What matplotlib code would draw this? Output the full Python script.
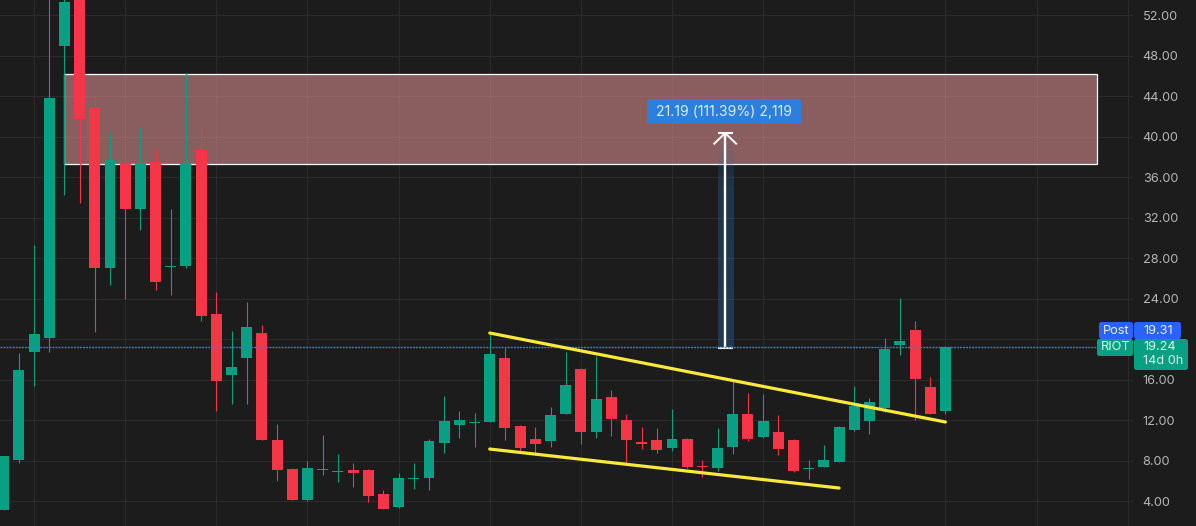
import matplotlib.pyplot as plt
import numpy as np
from matplotlib.patches import FancyBboxPatch, Rectangle
from matplotlib.transforms import Affine2D

plt.rcParams["font.family"] = ["Inter", "DejaVu Sans"]

opens = [3.16, 8.10, 18.76, 20.15, 48.99, 62.0, 42.96, 27.06, 37.43, 32.89, 37.53, 27.16, 27.26, 38.71, 22.52, 16.49,
         18.17, 20.64, 10.07, 7.21, 4.15, 7.11, 6.91, 7.11, 7.11, 4.74, 3.46, 6.22, 6.32, 9.77, 11.55, 11.75,
         11.85, 18.17, 11.45, 10.17, 9.97, 12.64, 17.09, 10.86, 14.32, 12.05, 9.87, 10.07, 9.28, 10.17, 7.51, 7.31,
         9.38, 12.64, 10.37, 10.86, 10.07, 7.21, 7.41, 7.90, 11.06, 11.95, 13.23, 19.45, 20.94, 15.31, 12.94]
highs = [8.49, 18.67, 29.33, 60.0, 56.0, 65.0, 44.05, 40.39, 37.60, 40.89, 38.71, 32.89, 46.32, 40.89, 24.69, 20.84,
         23.70, 21.43, 11.65, 7.31, 7.99, 10.57, 8.69, 7.80, 7.21, 5.13, 6.81, 7.80, 10.17, 14.42, 12.94, 12.74,
         20.64, 19.16, 11.55, 11.36, 13.33, 18.76, 17.19, 18.37, 15.01, 12.64, 11.36, 11.26, 13.13, 10.27, 8.10, 11.26,
         15.90, 14.71, 14.61, 12.54, 10.17, 8.10, 9.58, 11.45, 15.40, 14.22, 20.15, 24.10, 21.83, 16.30, 19.36]
lows = [3.16, 7.80, 15.40, 18.76, 34.27, 33.48, 20.74, 25.38, 24.00, 30.81, 24.89, 24.39, 27.06, 21.83, 12.94, 13.63,
        13.63, 10.07, 6.02, 4.15, 4.05, 6.62, 5.92, 5.43, 3.95, 3.26, 3.36, 5.23, 5.13, 8.79, 10.27, 9.38,
        11.85, 10.07, 8.98, 8.59, 9.38, 12.64, 9.68, 10.27, 10.47, 7.80, 9.18, 8.79, 8.98, 7.31, 6.42, 7.01,
        8.69, 9.97, 10.27, 8.59, 6.91, 6.22, 7.41, 7.90, 10.96, 10.67, 12.84, 18.47, 12.05, 12.64, 12.64]
closes = [8.49, 16.99, 20.54, 43.85, 53.33, 41.78, 27.06, 37.73, 32.89, 37.43, 25.68, 27.26, 37.43, 22.32, 15.90, 17.28,
          21.23, 10.07, 7.11, 4.15, 7.31, 7.21, 7.01, 6.81, 4.54, 3.26, 6.32, 6.32, 9.97, 11.95, 12.05, 11.85,
          18.57, 11.26, 9.28, 9.68, 12.54, 15.50, 10.86, 14.12, 12.15, 10.07, 9.68, 9.09, 10.17, 7.41, 7.41, 9.28,
          12.64, 10.17, 11.95, 9.18, 7.01, 7.31, 8.10, 11.36, 13.43, 13.83, 19.06, 19.85, 16.10, 12.64, 19.24]

price_ticks = [4, 8, 12, 16, 20, 24, 28, 32, 36, 40, 44, 48, 52]
# the 20.00 label is hidden behind the price badges
price_labels = ["4.00", "8.00", "12.00", "16.00", "", "24.00", "28.00", "32.00", "36.00", "40.00", "44.00", "48.00",
                "52.00"]
bar_ticks = [2, 8, 14, 20, 26, 32, 38, 44, 50, 56, 62, 68, 74]

last_price = 19.24
post_price = 19.31

zone_bars = (4, 71.95)
zone_prices = (37.33, 46.19)
upper_trend = ([32, 62], [20.64, 11.85])
lower_trend = ([32, 55], [9.18, 5.33])
ruler_bars = (47, 48)
ruler_prices = (19.2, 40.39)

BG = "#1c1c1c"
GRID = "#2b2b2b"
UP = "#089f82"
DOWN = "#f53649"
TEXT = "#b4b4b4"

fig = plt.figure(figsize=(11.96, 5.26), dpi=100, facecolor=BG)
ax = fig.add_axes([0, 0, 1133 / 1196, 1], facecolor=BG)
ax.set_xlim(-0.2436, 74.35)
ax.set_ylim(1.58, 53.53)
for spine in ax.spines.values():
    spine.set_visible(False)

ax.set_axisbelow(True)
ax.yaxis.tick_right()
ax.set_yticks(price_ticks)
ax.set_yticklabels(price_labels, color=TEXT, fontsize=9.2)
ax.set_xticks(bar_ticks)
ax.tick_params(axis="both", length=0)
ax.tick_params(axis="y", pad=7)
ax.tick_params(axis="x", labelbottom=False)
ax.grid(True, color=GRID, linewidth=0.75)

# demand zone sits under the candles
ax.add_patch(Rectangle((zone_bars[0], zone_prices[0]), zone_bars[1] - zone_bars[0], zone_prices[1] - zone_prices[0],
                       facecolor="#e69696", alpha=0.55, edgecolor="none", zorder=1))
ax.add_patch(Rectangle((zone_bars[0], zone_prices[0]), zone_bars[1] - zone_bars[0], zone_prices[1] - zone_prices[0],
                       facecolor="none", edgecolor="white", linewidth=0.9, zorder=1.1))

# candles
x = np.arange(len(closes))
o, h, l, c = map(np.array, (opens, highs, lows, closes))
colors = np.where(c >= o, UP, DOWN)
ax.vlines(x, l, h, colors=colors, linewidth=0.8, zorder=2)
body_low = np.minimum(o, c)
body_high = np.maximum(o, c)
ax.bar(x, body_high - body_low, bottom=body_low, width=0.72, color=colors, linewidth=0, zorder=3)

# measuring tool
mid = sum(ruler_bars) / 2
alpha = np.interp(np.linspace(0, 1, 200), [0, 0.25, 1], [0.0, 0.32, 0.36])
gradient = np.zeros((200, 1, 4))
gradient[:, 0, :3] = (0.16, 0.42, 0.69)
gradient[:, 0, 3] = alpha
ax.imshow(gradient, extent=(ruler_bars[0], ruler_bars[1], ruler_prices[0], ruler_prices[1]),
          aspect="auto", origin="upper", zorder=3.5, interpolation="bilinear")
ax.set_xlim(-0.2436, 74.35)
ax.set_ylim(1.58, 53.53)
ax.plot([mid, mid], ruler_prices, color="white", linewidth=1.7, zorder=4, solid_capstyle="butt")
ax.plot(ruler_bars, [ruler_prices[0]] * 2, color="white", linewidth=1.5, zorder=4, solid_capstyle="butt")
ax.plot(ruler_bars, [ruler_prices[1]] * 2, color="white", linewidth=1.5, zorder=4, solid_capstyle="butt")
ax.plot([mid - 0.72, mid, mid + 0.72], [ruler_prices[1] - 1.05, ruler_prices[1], ruler_prices[1] - 1.05],
        color="white", linewidth=1.4, zorder=4)

# trend lines
for bars, prices in (upper_trend, lower_trend):
    ax.plot(bars, prices, color="#fbe93c", linewidth=2.3, solid_capstyle="round", zorder=5)

# last price line
ax.axhline(last_price, color="#2a86d6", linewidth=1.0, linestyle=(0, (1.4, 0.8)), zorder=4.5)

# badges are placed in screen pixels, y measured from the top
to_px = Affine2D().scale(1, -1).translate(0, 526)


def badge(x0, y0, x1, y1, color, radius=2.5):
    ax.add_patch(FancyBboxPatch((x0 + radius, y0 + radius), x1 - x0 - 2 * radius, y1 - y0 - 2 * radius,
                                boxstyle="round,pad=%s,rounding_size=%s" % (radius, radius),
                                facecolor=color, edgecolor="none", transform=to_px, clip_on=False, zorder=7))


def label(px, py, text, color="white", size=9.2, ha="center"):
    ax.text(px, py, text, color=color, fontsize=size, ha=ha, va="center", transform=to_px, clip_on=False, zorder=8)


badge(647, 99, 801, 124, "#2a80dc")
label(724, 112, "21.19 (111.39%) 2,119", color="#dcecfb", size=10.1)

badge(1099, 322, 1133, 339, "#2962ff")
badge(1134, 322, 1181, 339, "#2962ff")
badge(1097, 339, 1133, 356, UP)
badge(1134, 339, 1188, 370, UP)
label(1116.5, 330.5, "Post", color="#e8eeff")
label(1143, 330.5, "%.2f" % post_price, color="#e8eeff", ha="left")
label(1115.5, 347.5, "RIOT", color="#e3f5f0")
label(1143, 347.5, "%.2f" % last_price, color="#e3f5f0", ha="left")
label(1143, 361.5, "14d 0h", color="#d3eee8", ha="left")

fig.savefig("out.png", dpi=100, facecolor=BG)
